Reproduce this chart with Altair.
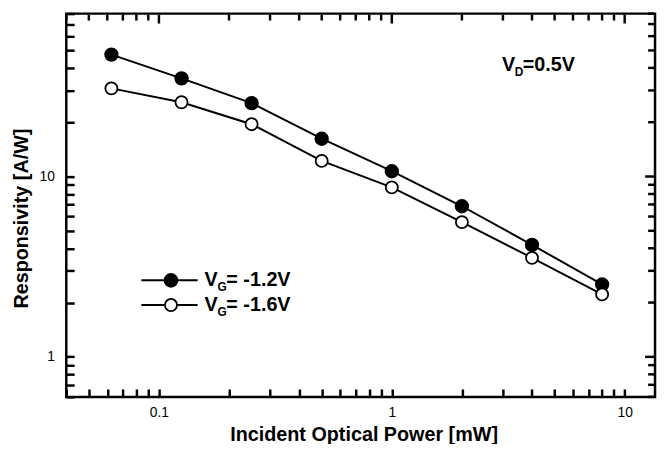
import altair as alt
import pandas as pd

# data
power = [0.0625, 0.125, 0.25, 0.5, 1, 2, 4, 8]
resp_12 = [47.4, 35.0, 25.5, 16.2, 10.7, 6.84, 4.18, 2.52]
resp_16 = [30.8, 25.8, 19.5, 12.2, 8.7, 5.59, 3.54, 2.22]
series_names = ["VG=-1.2V", "VG=-1.6V"]

x_major = [0.1, 1, 10]
x_minor = [0.04, 0.05, 0.06, 0.07, 0.08, 0.09,
           0.2, 0.3, 0.4, 0.5, 0.6, 0.7, 0.8, 0.9,
           2, 3, 4, 5, 6, 7, 8, 9]
y_major = [1, 10]
y_minor = [0.6, 0.7, 0.8, 0.9, 2, 3, 4, 5, 6, 7, 8, 9,
           20, 30, 40, 50, 60, 70, 80]

W, H = 596, 388
FONT = "Liberation Sans"
XT = "Incident Optical Power [mW]"
YT = "Responsivity [A/W]"

df = pd.DataFrame({
    "x": power * 2,
    "y": resp_12 + resp_16,
    "s": [series_names[0]] * len(power) + [series_names[1]] * len(power),
})

xs = alt.Scale(type="log", domain=[0.04, 13.5], nice=False)
ys = alt.Scale(type="log", domain=[0.6, 80], nice=False)

base = alt.Chart(df)
X = alt.X("x:Q", scale=xs, title=XT)
Y = alt.Y("y:Q", scale=ys, title=YT)

xmaj = "indexof([0.1, 1, 10], datum.value) >= 0"
ymaj = "indexof([1, 10], datum.value) >= 0"

# bottom and left axes: inward ticks, labels on majors only
lines = base.mark_line(color="black", strokeWidth=2).encode(
    x=alt.X("x:Q", scale=xs, title=XT,
            axis=alt.Axis(values=x_major + x_minor, grid=False, domain=False,
                          labelExpr=f"{xmaj} ? format(datum.value, '~g') : ''",
                          tickSize={"expr": "-8"}, tickWidth=2.5, tickColor="black",
                          labelFont=FONT, labelFontSize=14, labelColor="black", labelPadding=17,
                          titleFont=FONT, titleFontSize=20, titleFontWeight="bold", titleColor="black",
                          titleX=301, titleY=38, titleBaseline="middle")),
    y=alt.Y("y:Q", scale=ys, title=YT,
            axis=alt.Axis(values=y_major + y_minor, grid=False, domain=False,
                          labelExpr=f"{ymaj} ? format(datum.value, '~g') : ''",
                          tickSize={"expr": "-8"}, tickWidth=2.5, tickColor="black",
                          labelFont=FONT, labelFontSize=14, labelColor="black", labelPadding=20,
                          titleFont=FONT, titleFontSize=20, titleFontWeight="bold", titleColor="black",
                          titleX=-45, titleY=207, titleBaseline="middle", titleAlign="center")),
    detail="s:N",
)

filled = base.transform_filter(alt.datum.s == series_names[0]).mark_point(
    shape="circle", size=170, filled=True, fill="black", stroke="black", strokeWidth=1.5, opacity=1
).encode(x=X, y=Y)

opened = base.transform_filter(alt.datum.s == series_names[1]).mark_point(
    shape="circle", size=150, filled=True, fill="white", stroke="black", strokeWidth=1.8, opacity=1
).encode(x=X, y=Y)

layers = [lines]
# top and right edges: inward tick marks
for L, vals in [(9, x_major), (6, x_minor)]:
    layers.append(
        alt.Chart(pd.DataFrame({"tv": vals})).mark_rule(color="black", strokeWidth=2.5).encode(
            x=alt.X("tv:Q", scale=xs, title=XT), y=alt.value(1), y2=alt.value(1 + L)
        )
    )
for L, vals in [(9, y_major), (6, y_minor)]:
    layers.append(
        alt.Chart(pd.DataFrame({"tv": vals})).mark_rule(color="black", strokeWidth=2.5).encode(
            y=alt.Y("tv:Q", scale=ys, title=YT), x=alt.value(W - 1), x2=alt.value(W - 1 - L)
        )
    )

layers += [filled, opened]

tbase = alt.Chart(pd.DataFrame({"a": [0]}))
def txt(t, x, y, size, dy=0):
    return tbase.mark_text(text=t, font=FONT, fontSize=size, fontWeight="bold", color="black",
                           align="left", baseline="middle", dy=dy).encode(x=alt.value(x), y=alt.value(y))

# annotation V_D = 0.5V
layers += [txt("V", 441, 52, 20), txt("D", 454, 52, 12, dy=7), txt("=0.5V", 462, 52, 20)]

# legend
for row, (label_sub, label_rest, fill) in enumerate([("G", "= -1.2V", "black"), ("G", "= -1.6V", "white")]):
    yy = 270 + row * 25
    layers.append(tbase.mark_rule(color="black", strokeWidth=2).encode(
        x=alt.value(76), x2=alt.value(133), y=alt.value(yy)))
    layers.append(tbase.mark_point(shape="circle", size=150 if fill == "white" else 170, filled=True,
                                   fill=fill, stroke="black", strokeWidth=1.8, opacity=1).encode(
        x=alt.value(106), y=alt.value(yy)))
    layers.append(txt("V", 140, yy, 20))
    layers.append(txt(label_sub, 153, yy, 12, dy=7))
    layers.append(txt(label_rest, 162, yy, 20))

chart = alt.layer(*layers).properties(
    width=W, height=H,
    autosize=alt.AutoSizeParams(type="none"),
    padding={"left": 59, "top": 3, "right": 2, "bottom": 45},
    background="white",
).configure_view(stroke="black", strokeWidth=2.5)

chart.save("out.html", embed_options={"renderer": "svg", "actions": False})
